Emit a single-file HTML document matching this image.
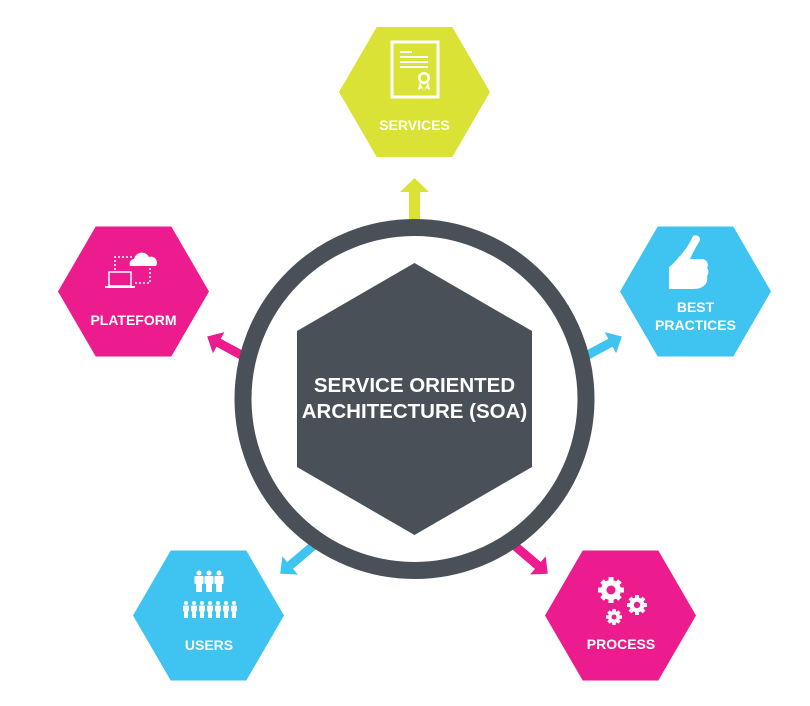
<!DOCTYPE html>
<html><head><meta charset="utf-8"><style>
html,body{margin:0;padding:0;background:#fff;}
svg{display:block;}
text{font-family:"Liberation Sans",sans-serif;font-weight:bold;fill:#fff;text-anchor:middle;}
</style></head><body>
<svg width="810" height="706" viewBox="0 0 810 706" xmlns="http://www.w3.org/2000/svg">
<defs>
<path id="arw" d="M0,-4.5 L30,-4.5 L30,-12 L43,0 L30,12 L30,4.5 L0,4.5 Z"/>
</defs>
<!-- arrows -->
<path d="M409,222 L409,192 L400,192 L414.5,178 L429,192 L420,192 L420,222 Z" fill="#dbe236"/>
<use href="#arw" fill="#ec1c8e" transform="translate(245,357) rotate(208.4)"/>
<use href="#arw" fill="#3fc3f1" transform="translate(584,357) rotate(-28.4)"/>
<use href="#arw" fill="#3fc3f1" transform="translate(313,546) rotate(139.7)"/>
<use href="#arw" fill="#ec1c8e" transform="translate(515,546) rotate(40.3)"/>
<!-- ring -->
<circle cx="414.5" cy="399" r="171.5" fill="#fff" stroke="#4a5057" stroke-width="17"/>
<polygon points="414.5,263 532,331 532,467 414.5,535 297,467 297,331" fill="#4a5057"/>
<text x="414.5" y="392" font-size="20.5">SERVICE ORIENTED</text>
<text x="414.5" y="418" font-size="20.5">ARCHITECTURE (SOA)</text>

<!-- hexes -->
<polygon points="339,92 376.7,27 452.3,27 490,92 452.3,157 376.7,157" fill="#dbe236"/>
<polygon points="58,291.5 95.7,226.5 171.3,226.5 209,291.5 171.3,356.5 95.7,356.5" fill="#ec1c8e"/>
<polygon points="620,291.5 657.7,226.5 733.3,226.5 771,291.5 733.3,356.5 657.7,356.5" fill="#3fc3f1"/>
<polygon points="133,615.5 170.7,550.5 246.3,550.5 284,615.5 246.3,680.5 170.7,680.5" fill="#3fc3f1"/>
<polygon points="545,615.5 582.7,550.5 658.3,550.5 696,615.5 658.3,680.5 582.7,680.5" fill="#ec1c8e"/>

<text x="414.5" y="130" font-size="14">SERVICES</text>
<text x="133.5" y="325" font-size="14">PLATEFORM</text>
<text x="695.5" y="312" font-size="14">BEST</text>
<text x="695.5" y="330" font-size="14">PRACTICES</text>
<text x="209" y="650" font-size="14">USERS</text>
<text x="621" y="649" font-size="14">PROCESS</text>

<!-- certificate icon -->
<g fill="#fff">
<rect x="392" y="42" width="46" height="55" fill="none" stroke="#fff" stroke-width="3"/>
<rect x="400" y="51" width="12" height="2"/>
<rect x="400" y="56" width="28" height="2"/>
<rect x="400" y="61" width="28" height="2"/>
<rect x="400" y="66" width="28" height="2"/>
<circle cx="424" cy="78" r="6"/>
<path d="M420,82 L418,90 L422,88 L424,91 Z M428,82 L430,90 L426,88 L424,91 Z"/>
</g>
<circle cx="424" cy="78" r="3.5" fill="#dbe236"/>

<!-- plateform icon -->
<g fill="#fff" stroke="#fff">
<path d="M115,270 L115,257 L132,257 M150,268 L150,283 L135,283" fill="none" stroke-width="1.5" stroke-dasharray="2,2"/>
<rect x="109" y="272" width="22" height="14" fill="none" stroke-width="1.5"/>
<rect x="105" y="286" width="30" height="2" stroke="none"/>
<path d="M130,266 a5,5 0 0 1 4,-7 a8,8 0 0 1 15,-2 a6,6 0 0 1 7,9 Z" stroke="none"/>
</g>

<!-- thumbs up -->
<path fill="#fff" d="M669,267 L669,289 L686,289 C695,289 700,289 702,287 C706,285 708,281 707,276 C709,273 709,270 707,268 C709,264 707,260 703,259 L690,259 C693,252 698,244 700,240 C700,236 696,234 693,236 C689,245 684,252 678,258 C675,262 672,265 669,267 Z"/>

<!-- users icon -->
<g fill="#fff">
<g id="p1"><circle cx="199" cy="573" r="2.5"/><rect x="194.5" y="576" width="9" height="8" rx="1"/><rect x="196" y="583" width="6" height="9"/></g>
<use href="#p1" transform="translate(10,0)"/>
<use href="#p1" transform="translate(20,0)"/>
<g id="p2"><circle cx="186" cy="603" r="2"/><rect x="183" y="605.5" width="6" height="6" rx="1"/><rect x="184" y="611" width="4" height="7"/></g>
<use href="#p2" transform="translate(8,0)"/>
<use href="#p2" transform="translate(16,0)"/>
<use href="#p2" transform="translate(24,0)"/>
<use href="#p2" transform="translate(32,0)"/>
<use href="#p2" transform="translate(40,0)"/>
<use href="#p2" transform="translate(48,0)"/>
</g>

<!-- gears -->
<g fill="#fff">
<circle cx="611" cy="590" r="10"/>
<g stroke="#fff" stroke-width="5">
<path d="M611,577 L611,603 M598,590 L624,590 M602,581 L620,599 M620,581 L602,599"/>
</g>
<circle cx="637" cy="605" r="7.5"/>
<g stroke="#fff" stroke-width="4"><path d="M637,595 L637,615 M627,605 L647,605 M630,598 L644,612 M644,598 L630,612"/></g>
<circle cx="614" cy="617" r="6"/>
<g stroke="#fff" stroke-width="3.5"><path d="M614,609 L614,625 M606,617 L622,617 M608.5,611.5 L619.5,622.5 M619.5,611.5 L608.5,622.5"/></g>
</g>
<circle cx="611" cy="590" r="4.5" fill="#ec1c8e"/>
<circle cx="637" cy="605" r="3.2" fill="#ec1c8e"/>
<circle cx="614" cy="617" r="2.5" fill="#ec1c8e"/>
</svg>
</body></html>
